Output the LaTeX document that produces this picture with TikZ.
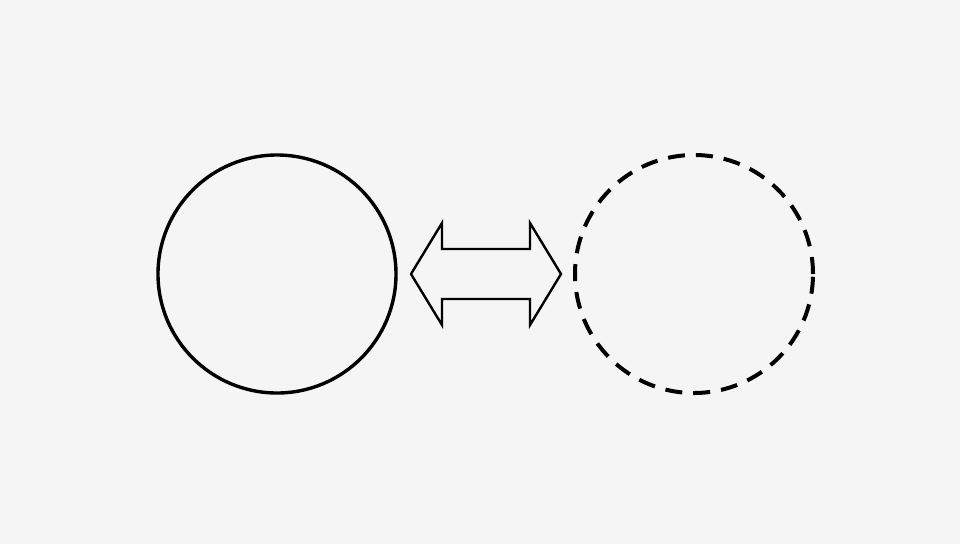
\documentclass[tikz,border=0pt]{standalone}
\definecolor{bg}{HTML}{F5F5F5}
\tikzset{
  ring/.style={circle, draw=black, minimum size=238pt, inner sep=0pt, outer sep=0pt},
  solidring/.style={ring, line width=3.4pt},
  dashring/.style={ring, line width=4pt, dash pattern=on 17pt off 11pt},
  fatarrow/.style={draw=black, fill=bg, line width=2.4pt, line join=miter},
}
\begin{document}
\begin{tikzpicture}[x=1pt, y=-1pt]
  \fill[bg] (0,0) rectangle (960,544);
  \useasboundingbox (0,0) rectangle (960,544);
  \node[solidring] (left) at (277,274) {};
  \node[dashring] (right) at (694,274) {};
  \coordinate (mid) at (486,274);
  \draw[fatarrow] (mid) ++(-75,0) -- ++(31,-51) -- ++(0,26) -- ++(88,0) -- ++(0,-26)
    -- ++(31,51) -- ++(-31,51) -- ++(0,-26) -- ++(-88,0) -- ++(0,26) -- cycle;
\end{tikzpicture}
\end{document}
